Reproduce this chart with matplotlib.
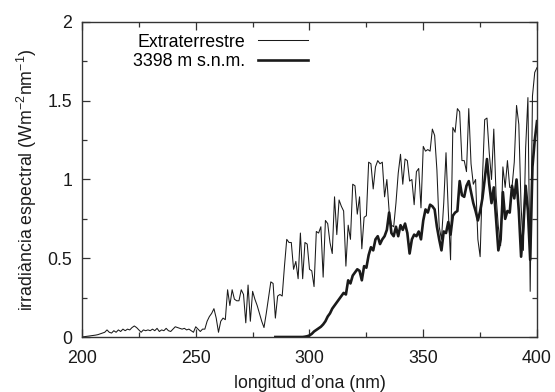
import numpy as np
import matplotlib
matplotlib.use("Agg")
import matplotlib.pyplot as plt
from matplotlib.ticker import MultipleLocator, FuncFormatter

# wavelengths, nm (1 nm step)
wl_ext = np.arange(200, 401)
wl_ground = np.arange(285, 401)

# extraterrestrial spectral irradiance, W m-2 nm-1
ext = [
    0.0, 0.002, 0.004, 0.006, 0.008, 0.01, 0.012, 0.015, 0.02, 0.025,
    0.03, 0.045, 0.03, 0.025, 0.04, 0.03, 0.045, 0.035, 0.05, 0.04,
    0.05, 0.045, 0.06, 0.07, 0.06, 0.045, 0.03, 0.045, 0.04, 0.045,
    0.04, 0.05, 0.04, 0.055, 0.035, 0.045, 0.04, 0.055, 0.04, 0.035,
    0.05, 0.065, 0.06, 0.055, 0.05, 0.055, 0.045, 0.05, 0.04, 0.03,
    0.065, 0.05, 0.035, 0.05, 0.05, 0.10, 0.13, 0.15, 0.18, 0.12,
    0.03, 0.10, 0.12, 0.11, 0.30, 0.20, 0.30, 0.24, 0.23, 0.23,
    0.30, 0.27, 0.09, 0.33, 0.10, 0.29, 0.24, 0.20, 0.15, 0.10,
    0.06, 0.15, 0.25, 0.35, 0.34, 0.12, 0.26, 0.27, 0.26, 0.45,
    0.62, 0.60, 0.60, 0.43, 0.48, 0.37, 0.66, 0.37, 0.60, 0.59,
    0.43, 0.42, 0.32, 0.67, 0.66, 0.70, 0.38, 0.74, 0.72, 0.60,
    0.53, 0.89, 0.65, 0.87, 0.83, 0.80, 0.45, 0.71, 0.62, 0.97,
    0.96, 0.78, 0.89, 0.56, 0.76, 0.77, 1.11, 1.10, 0.94, 1.08,
    1.12, 1.10, 1.11, 0.89, 1.00, 0.80, 0.71, 0.70, 0.85, 1.04,
    1.16, 0.97, 1.13, 1.12, 0.99, 1.00, 0.84, 1.05, 1.07, 0.82,
    1.21, 1.18, 1.19, 1.18, 1.32, 1.28, 1.06, 0.70, 0.62, 0.85,
    1.17, 0.80, 0.49, 1.33, 1.30, 1.45, 1.43, 1.12, 1.12, 1.05,
    1.45, 1.10, 0.97, 1.00, 0.62, 0.51, 1.00, 1.38, 1.39, 1.17,
    1.00, 1.32, 0.90, 0.70, 0.58, 1.08, 0.95, 1.12, 0.95, 0.95,
    1.11, 1.47, 1.35, 0.83, 0.55, 1.20, 1.52, 0.29, 1.53, 1.68,
    1.71,
]

# measured at 3398 m a.s.l.
ground = [
    0.0, 0.0, 0.0, 0.0, 0.0, 0.0, 0.0, 0.0, 0.0, 0.0,
    0.0, 0.0, 0.0, 0.002, 0.005,
    0.01, 0.02, 0.035, 0.045, 0.055, 0.065, 0.08, 0.10, 0.13, 0.15,
    0.18, 0.20, 0.22, 0.24, 0.26, 0.28, 0.27, 0.36, 0.34, 0.39,
    0.41, 0.43, 0.42, 0.36, 0.45, 0.44, 0.52, 0.57, 0.55, 0.62,
    0.64, 0.59, 0.62, 0.64, 0.68, 0.79, 0.66, 0.64, 0.70, 0.64,
    0.71, 0.68, 0.72, 0.66, 0.53, 0.62, 0.65, 0.64, 0.67, 0.62,
    0.74, 0.81, 0.79, 0.84, 0.83, 0.81, 0.70, 0.62, 0.55, 0.67,
    0.66, 0.73, 0.65, 0.77, 0.79, 0.80, 0.99, 0.90, 0.89, 0.96,
    0.99, 0.92, 0.85, 0.80, 0.74, 0.80, 0.88, 1.00, 1.13, 0.97,
    0.85, 0.95, 0.75, 0.55, 0.62, 0.92, 0.75, 0.80, 0.79, 0.96,
    0.88, 1.00, 0.80, 0.51, 0.70, 0.96, 0.80, 0.49, 1.08, 1.25,
    1.37,
]

labels = ["Extraterrestre", "3398 m s.n.m."]

plt.rcParams["font.family"] = ["Liberation Sans", "DejaVu Sans"]
plt.rcParams["mathtext.fontset"] = "custom"
plt.rcParams["mathtext.rm"] = "Liberation Sans"
plt.rcParams["mathtext.it"] = "Liberation Sans"
FS = 12.8

fig = plt.figure(figsize=(5.55, 3.92), dpi=100)
ax = fig.add_axes([0.1477, 0.1403, 0.8199, 0.8036])

ax.plot(wl_ext, ext, color="#1a1a1a", lw=0.75, label=labels[0])
ax.plot(wl_ground, ground, color="#1a1a1a", lw=1.9, label=labels[1])

ax.set_xlim(200, 400)
ax.set_ylim(0, 2)
ax.xaxis.set_major_locator(MultipleLocator(50))
ax.xaxis.set_minor_locator(MultipleLocator(25))
ax.yaxis.set_major_locator(MultipleLocator(0.5))
ax.yaxis.set_minor_locator(MultipleLocator(0.25))
ax.yaxis.set_major_formatter(FuncFormatter(lambda v, p: f"{v:g}"))
ax.tick_params(which="both", direction="in", top=True, right=True,
               color="#333333", labelsize=FS, labelcolor="#1a1a1a")
ax.tick_params(which="major", length=6, width=0.9)
ax.tick_params(axis="x", which="major", pad=9)
ax.tick_params(axis="y", which="major", pad=7)
ax.tick_params(which="minor", length=3.5, width=0.9)
for s in ax.spines.values():
    s.set_color("#333333")
    s.set_linewidth(1.0)

ax.set_xlabel("longitud d\u2019ona (nm)", fontsize=FS, labelpad=6, color="#1a1a1a")
ax.set_ylabel("irradi\u00e0ncia espectral (Wm$^{-2}$nm$^{-1}$)", fontsize=FS,
              labelpad=6, color="#1a1a1a")

ax.legend(loc="upper right", bbox_to_anchor=(0.497, 0.963), frameon=False,
          markerfirst=False, fontsize=FS, handlelength=2.8, handletextpad=0.75,
          labelspacing=0.12, borderpad=0, borderaxespad=0)

fig.savefig("out.png", dpi=100)
